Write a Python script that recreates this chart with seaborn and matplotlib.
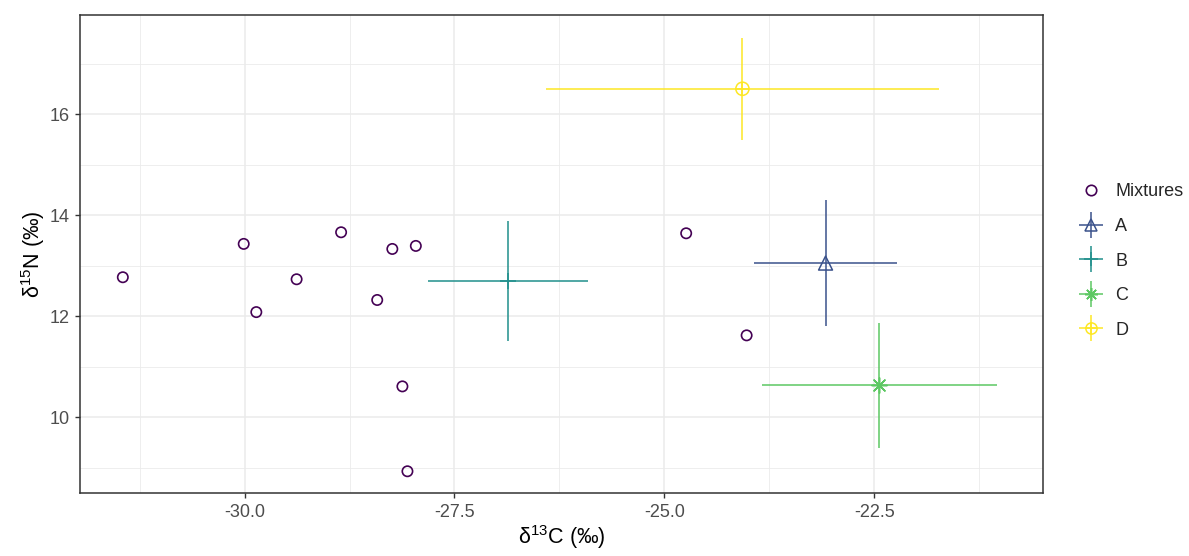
import numpy as np
import pandas as pd
import seaborn as sns
import matplotlib.pyplot as plt
from matplotlib.ticker import MultipleLocator
from matplotlib.lines import Line2D

# mixture isotope values
mix_d13c = [-31.45, -30.01, -29.86, -29.38, -28.85, -28.42, -28.24, -27.96, -28.12, -28.06, -24.74, -24.02]
mix_d15n = [12.77, 13.43, 12.08, 12.73, 13.66, 12.32, 13.33, 13.39, 10.61, 8.93, 13.64, 11.62]

# source means and sd
sources = ['A', 'B', 'C', 'D']
src_d13c = [-23.08, -26.86, -22.44, -24.07]
src_d13c_sd = [0.85, 0.95, 1.40, 2.34]
src_d15n = [13.05, 12.69, 10.63, 16.50]
src_d15n_sd = [1.24, 1.19, 1.23, 1.01]

pal = ['#440154', '#3B528B', '#21908C', '#5DC863', '#FDE725']

sns.set_style('white')
plt.rcParams['font.family'] = ['Liberation Sans', 'DejaVu Sans']
plt.rcParams['mathtext.fontset'] = 'custom'
plt.rcParams['mathtext.rm'] = 'Liberation Sans'
plt.rcParams['mathtext.it'] = 'Liberation Sans'

mix = pd.DataFrame({'d13C': mix_d13c, 'd15N': mix_d15n})
src = pd.DataFrame({'source': sources, 'd13C': src_d13c, 'sdC': src_d13c_sd,
                    'd15N': src_d15n, 'sdN': src_d15n_sd})

fig = plt.figure(figsize=(11.89, 5.56), dpi=100)
ax = fig.add_axes([80/1189, 1 - 493/556, (1043-80)/1189, (493-15)/556])

lw = 1.1
sns.scatterplot(data=mix, x='d13C', y='d15N', ax=ax, marker='o', s=55,
                facecolor='none', edgecolor=pal[0], linewidth=1.2, legend=False, zorder=3)

markers = {'A': '^', 'B': '+', 'C': (8, 2, 0), 'D': 'o'}
filled = {'A': True, 'B': False, 'C': False, 'D': True}
msize = {'A': 10, 'B': 12, 'C': 11, 'D': 9.5}
handles = [Line2D([], [], marker='o', ls='none', mfc='none', mec=pal[0], mew=1.2, ms=7.5)]
for i, row in src.iterrows():
    c = pal[i + 1]
    m = markers[row.source]
    ax.errorbar(row.d13C, row.d15N, xerr=row.sdC, yerr=row.sdN, fmt='none',
                ecolor=c, elinewidth=lw, zorder=2)
    if filled[row.source]:
        sns.scatterplot(x=[row.d13C], y=[row.d15N], ax=ax, marker=m,
                        s=msize[row.source]**2, facecolor='none', edgecolor=c,
                        linewidth=lw, legend=False, zorder=4)
    else:
        sns.scatterplot(x=[row.d13C], y=[row.d15N], ax=ax, marker=m,
                        s=msize[row.source]**2, color=c,
                        linewidth=lw, legend=False, zorder=4)
    if row.source == 'D':
        sns.scatterplot(x=[row.d13C], y=[row.d15N], ax=ax, marker='+', s=msize['D']**2,
                        color=c, linewidth=lw, legend=False, zorder=4)
    # legend key: cross of error bars + point shape
    key = [Line2D([], [], marker='_', ls='none', mec=c, mew=lw, ms=17),
           Line2D([], [], marker='|', ls='none', mec=c, mew=lw, ms=19),
           Line2D([], [], marker=m, ls='none', mfc='none', mec=c, mew=lw, ms=msize[row.source] * 0.85)]
    if row.source == 'D':
        key.append(Line2D([], [], marker='+', ls='none', mec=c, mew=lw, ms=msize['D'] * 0.85))
    handles.append(tuple(key))

ax.set_xlim(-31.96, -20.49)
ax.set_ylim(8.50, 17.96)
ax.xaxis.set_major_locator(MultipleLocator(2.5))
ax.xaxis.set_minor_locator(MultipleLocator(1.25))
ax.yaxis.set_major_locator(MultipleLocator(2))
ax.yaxis.set_minor_locator(MultipleLocator(1))
ax.xaxis.set_major_formatter(lambda v, p: f'{v:.1f}')
ax.yaxis.set_major_formatter(lambda v, p: f'{v:.0f}')
ax.grid(which='major', color='#EBEBEB', lw=1.1, zorder=0)
ax.grid(which='minor', color='#EBEBEB', lw=0.6, zorder=0)
ax.set_axisbelow(True)
for s in ax.spines.values():
    s.set_color('#333333')
    s.set_linewidth(1.1)
ax.tick_params(which='major', length=3.6, width=1, color='#333333', labelcolor='#4D4D4D',
               labelsize=13, bottom=True, left=True, pad=4)
ax.tick_params(which='minor', length=0)

ax.set_xlabel(r'δ$^{13}$C (‰)', fontsize=15.5, color='black', labelpad=1.5)
ax.set_ylabel(r'δ$^{15}$N (‰)', fontsize=15.5, color='black', labelpad=2)

fig.legend(handles, ['Mixtures'] + sources, loc='center left',
           bbox_to_anchor=(1072/1189, 1 - 261/556), frameon=False, fontsize=13,
           handlelength=1.3, labelspacing=0.97, handletextpad=0.7, borderaxespad=0)

fig.savefig('out.png', dpi=100)
